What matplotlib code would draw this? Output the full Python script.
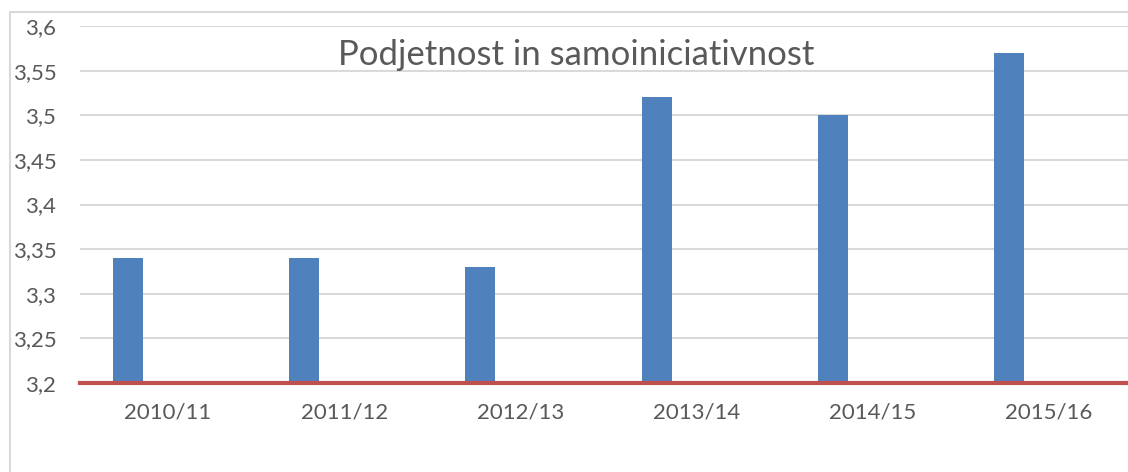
import numpy as np
import matplotlib.pyplot as plt
from matplotlib.patches import Rectangle
from matplotlib.ticker import FuncFormatter

categories = ['2010/11', '2011/12', '2012/13', '2013/14', '2014/15', '2015/16']
values = [3.34, 3.34, 3.33, 3.52, 3.50, 3.57]
title = 'Podjetnost in samoiniciativnost'

plt.rcParams['font.family'] = ['Lato', 'DejaVu Sans']
TEXT = '#595959'

fig = plt.figure(figsize=(11.28, 4.72), dpi=100)
# outer chart border (Excel style), cut off at right/bottom
fig.patches.append(Rectangle((10 / 1128, -0.1), 1.2, (472 - 12) / 472 + 0.1,
                             transform=fig.transFigure, fill=False,
                             edgecolor='#D9D9D9', linewidth=1.5))

ax = fig.add_axes([80 / 1128, 89 / 472, 1057 / 1128, 357 / 472])
x = np.arange(len(categories))
ax.bar(x - 0.227, np.array(values) - 3.2, bottom=3.2, width=0.17,
       color='#4F81BD', zorder=3)
ax.axhline(3.2, color='#C0504D', linewidth=3, zorder=4, clip_on=False)

ax.set_xlim(-0.5, len(categories) - 0.5)
ax.set_ylim(3.2, 3.6)
ax.set_yticks(np.arange(3.2, 3.601, 0.05))
ax.yaxis.set_major_formatter(FuncFormatter(lambda v, p: ('%g' % round(v, 2)).replace('.', ',')))
ax.set_xticks(x)
ax.set_xticklabels(categories)
ax.grid(axis='y', color='#D9D9D9', linewidth=1.5, zorder=0)
for s in ax.spines.values():
    s.set_visible(False)
ax.tick_params(length=0, colors=TEXT)
ax.tick_params(axis='y', pad=17, labelsize=16)
ax.tick_params(axis='x', pad=14, labelsize=16)

fig.text(576 / 1128, 1 - 55 / 472, title, ha='center', va='center',
         fontsize=25, color=TEXT)

fig.savefig('out.png', dpi=100)
